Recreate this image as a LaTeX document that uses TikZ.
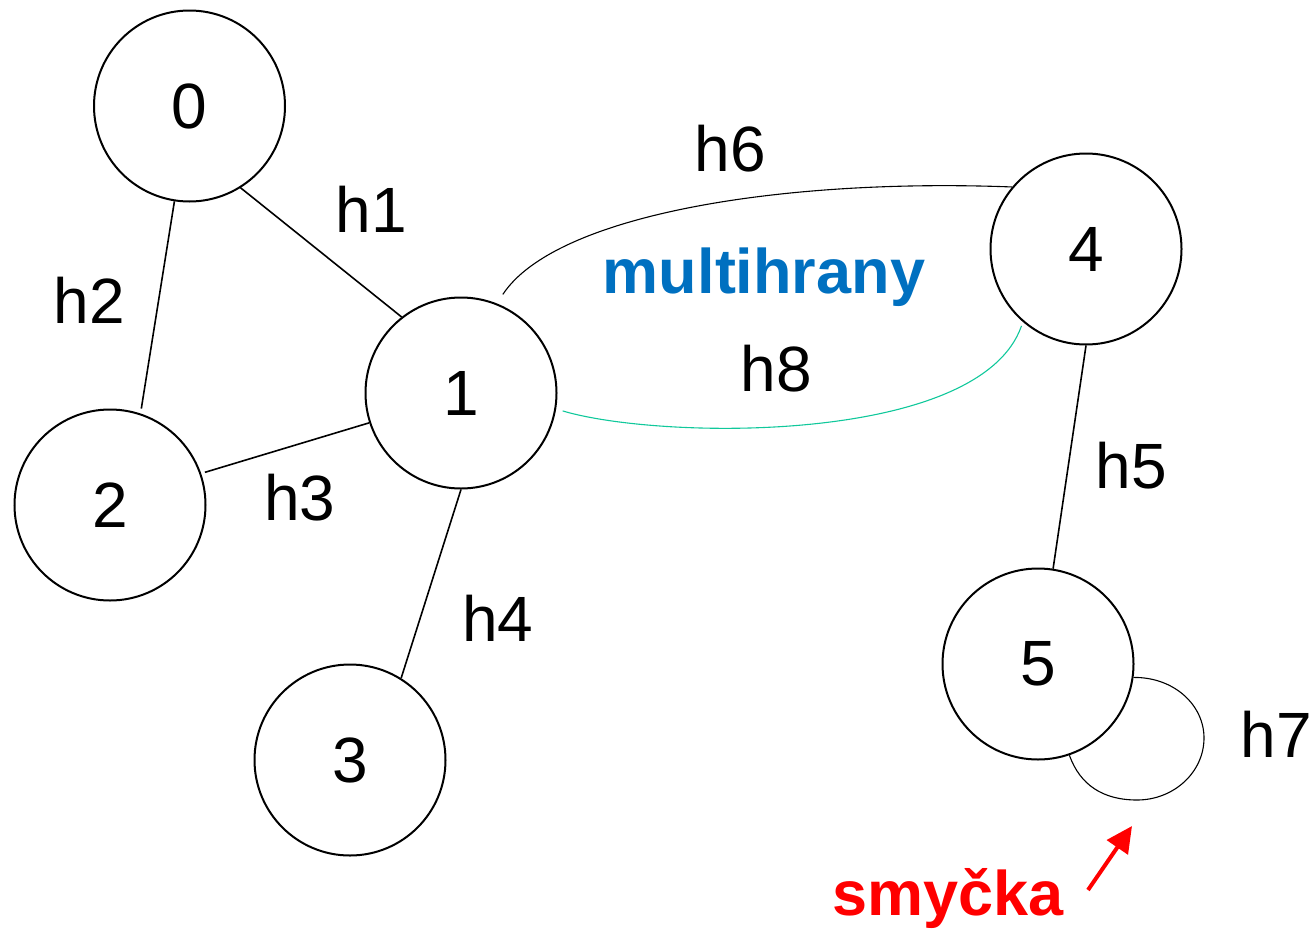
\documentclass[tikz,border=0pt]{standalone}
\usepackage{fontspec}
\setmainfont{Liberation Sans}
\usetikzlibrary{arrows.meta,calc}
\definecolor{multiblue}{RGB}{0,112,192}
\definecolor{loopred}{RGB}{255,0,0}
\definecolor{edgeteal}{RGB}{16,200,155}
\begin{document}
\begin{tikzpicture}[x=1pt,y=-1pt,
  vertex/.style={circle,draw,line width=2pt,minimum size=191pt,inner sep=0pt,
    font=\fontsize{64}{70}\selectfont},
  edgelabel/.style={font=\fontsize{64}{70}\selectfont,inner sep=0pt},
  note/.style={font=\fontsize{63}{70}\selectfont\bfseries,inner sep=0pt,anchor=base},
  plain/.style={line width=1.6pt},
  thin edge/.style={line width=1.1pt},
  pointer/.style={draw=loopred,line width=4pt,-{Triangle[length=26pt,width=25pt]}}]
\useasboundingbox (0,0) rectangle (1314,929);

% vertices
\node[vertex] (n0) at (189.5,106) {0};
\node[vertex] (n1) at (461,393) {1};
\node[vertex] (n2) at (110,505) {2};
\node[vertex] (n3) at (350,760) {3};
\node[vertex] (n4) at (1086,249) {4};
\node[vertex] (n5) at (1038,664) {5};

% simple edges
\draw[plain] (n0.-58) -- (n1.128);
\draw[plain] (n0.-99) -- ($(n2.center)!1.05!(n2.72)$);
\draw[plain] ($(n2.center)!1.04!(n2.19)$) -- (n1.-162);
\draw[plain] (n1.-90) -- (n3.58);
\draw[plain] (n4.-90) -- (n5.81);

% parallel edges between 1 and 4
\draw[thin edge] ($(n1.center)!1.11!(n1.67.5)$)
  .. controls (555,215) and (780,178) .. (n4.140);
\draw[thin edge,draw=edgeteal] ($(n1.center)!1.07!(n1.-10)$)
  .. controls (660,440) and (980,445) .. ($(n4.center)!1.04!(n4.-130)$);

% loop at vertex 5
\draw[thin edge] (n5.-8) .. controls (1174,677) and (1204,705) .. (1204,738)
  .. controls (1204,772) and (1174,800) .. (1137,800)
  .. controls (1103,800) and (1080,785) .. (n5.-71);

% edge labels
\node[edgelabel] (l1) at (371.5,209.5) {h1};
\node[edgelabel] (l2) at (89.5,300.5) {h2};
\node[edgelabel] (l3) at (300,497.5) {h3};
\node[edgelabel] (l4) at (498,618.5) {h4};
\node[edgelabel] (l5) at (1131.5,466) {h5};
\node[edgelabel] (l6) at (730.5,149) {h6};
\node[edgelabel] (l7) at (1276,734) {h7};
\node[edgelabel] (l8) at (776.5,368.5) {h8};

% annotations
\node[note,text=multiblue] (multi) at (764,293) {multihrany};
\node[note,text=loopred] (smycka) at (948,915) {smyčka};
\coordinate (pfrom) at (1088,890);
\coordinate (pto) at (1132,826);
\draw[pointer] (pfrom) -- (pto);
\end{tikzpicture}
\end{document}
